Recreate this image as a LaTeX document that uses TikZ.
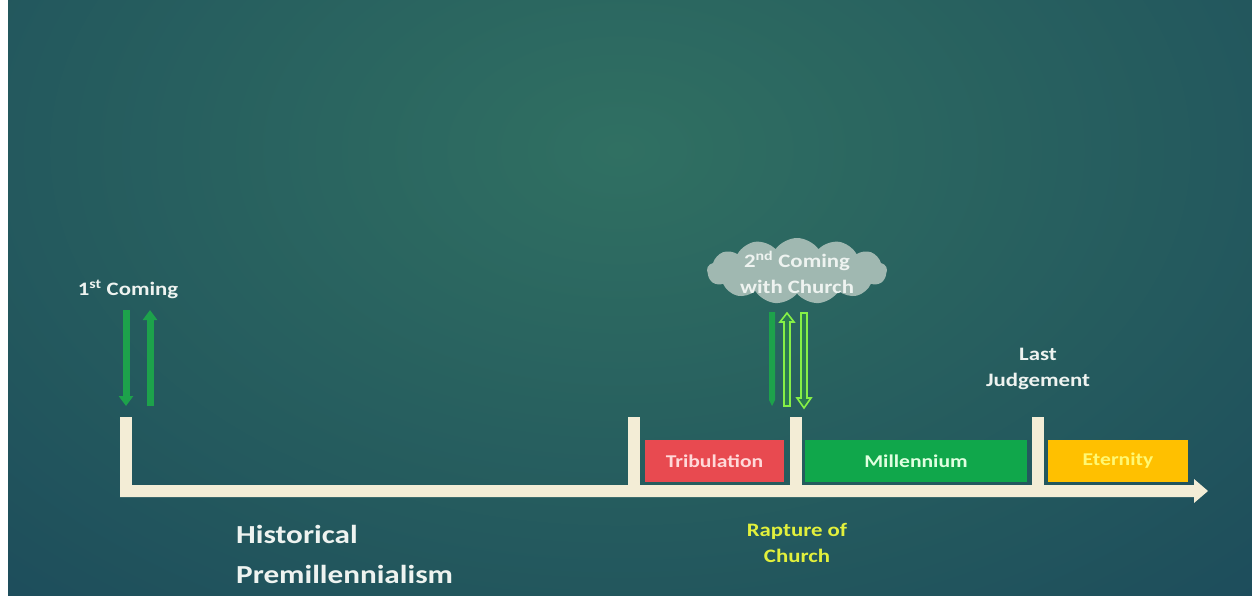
\documentclass[tikz,border=0pt]{standalone}
\usepackage{fontspec}
\setmainfont{Carlito}[FakeStretch=1.2]
\usetikzlibrary{shapes.symbols,arrows.meta}

\definecolor{bgdark}{HTML}{19455A}
\definecolor{bglight}{HTML}{307062}
\definecolor{cream}{HTML}{F3EDD6}
\definecolor{tribred}{HTML}{E84A50}
\definecolor{millgreen}{HTML}{10A74B}
\definecolor{eterngold}{HTML}{FFC000}
\definecolor{arrowgreen}{HTML}{1DA24B}
\definecolor{limeline}{HTML}{86F046}
\definecolor{hollowfill}{HTML}{2A7A50}
\definecolor{cloudgrey}{HTML}{A0B8B1}
\definecolor{textwhite}{HTML}{EEF3F0}
\definecolor{rapture}{HTML}{E2F03C}

\tikzset{
  post/.style={fill=cream},
  period/.style={rectangle, minimum height=42pt, inner sep=0pt,
    font=\bfseries\fontsize{18}{22}\selectfont},
  label/.style={text=textwhite, inner sep=0pt,
    font=\bfseries\fontsize{19}{23}\selectfont},
  biglabel/.style={text=textwhite, inner sep=0pt,
    font=\bfseries\fontsize{26}{30}\selectfont},
  coming/.style={draw=arrowgreen, line width=7pt,
    -{Triangle[width=14pt,length=10pt]}},
  hollow/.style={draw=limeline, fill=hollowfill, line width=1.6pt, line join=miter},
}

\begin{document}
\begin{tikzpicture}[x=1pt,y=-1pt]
\useasboundingbox (0,0) rectangle (1252,596);

% backdrop: white strip on the left, teal radial glow elsewhere
\fill[white] (0,0) rectangle (8,596);
\begin{scope}
  \clip (8,0) rectangle (1252,596);
  \fill[bgdark] (8,0) rectangle (1252,596);
  \shade[inner color=bglight, outer color=bgdark] (-520,-600) rectangle (1760,900);
\end{scope}

% timeline with its arrow head
\fill[cream] (120,485) -- (1194,485) -- (1194,479) -- (1208,491)
  -- (1194,503) -- (1194,497) -- (120,497) -- cycle;

% upright posts
\fill[post] (120,417) rectangle (132,497);
\fill[post] (628,417) rectangle (640,497);
\fill[post] (790,417) rectangle (802,497);
\fill[post] (1032,417) rectangle (1044,497);

% periods on the timeline
\node[period, fill=tribred, text=red!15!white, minimum width=139pt] (trib) at (714.5,461) {Tribulation};
\node[period, fill=millgreen, text=green!12!white, minimum width=222pt] (mill) at (916,461) {Millennium};
\node[period, fill=eterngold, text=yellow!55!white, minimum width=140pt] (etern) at (1118,461) {Eternity};

% first coming
\node[label, anchor=base] (first) at (128,295) {1\textsuperscript{st} Coming};
\coordinate (f1top) at (126,310);
\coordinate (f1bot) at (126,406);
\coordinate (f2top) at (150,310);
\coordinate (f2bot) at (150,406);
\draw[coming] (f1top) -- (f1bot);
\draw[coming] (f2bot) -- (f2top);

% second coming cloud
\node[cloud, cloud puffs=13, cloud puff arc=110, aspect=2.7, fill=cloudgrey,
  minimum width=180pt, minimum height=66pt, inner sep=0pt] (cloud) at (797,271) {};
\node[label, anchor=base] (second1) at (797,267) {2\textsuperscript{nd} Coming};
\node[label, anchor=base] (second2) at (797,293) {with Church};

% descent with the church
\fill[arrowgreen] (769,312) -- (775,312) -- (775,400) -- (772,406) -- (769,400) -- cycle;
\filldraw[hollow] (784,406) -- (784,322) -- (780,322) -- (787,313) -- (794,322)
  -- (790,322) -- (790,406) -- cycle;
\filldraw[hollow] (801,313) -- (801,398) -- (797,398) -- (804,408) -- (811,398)
  -- (807,398) -- (807,313) -- cycle;

% last judgement
\node[label, anchor=base] (last1) at (1038,360) {Last};
\node[label, anchor=base] (last2) at (1038,386) {Judgement};

% rapture of the church
\node[label, text=rapture, anchor=base] (rapt1) at (797,536) {Rapture of};
\node[label, text=rapture, anchor=base] (rapt2) at (797,562) {Church};

% title
\node[biglabel, anchor=base west] (title1) at (236,543) {Historical};
\node[biglabel, anchor=base west] (title2) at (236,583) {Premillennialism};
\end{tikzpicture}
\end{document}
